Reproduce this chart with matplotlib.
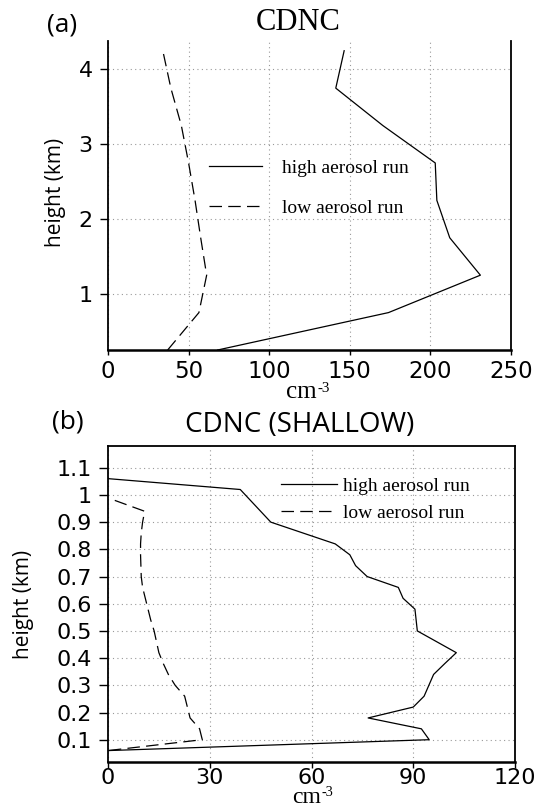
import matplotlib
matplotlib.use("Agg")
import matplotlib.pyplot as plt

W, H = 538, 808

# (a) CDNC profiles, levels every 0.5 km
heights_a = [0.25, 0.75, 1.25, 1.75, 2.25, 2.75, 3.25, 3.75, 4.25]
high_a = [68, 174, 231, 212, 204, 203, 170.5, 141.3, 146.5]
low_a = [37, 56.4, 61.2, 57.5, 54, 50, 45.5, 39, 34]

# (b) shallow cloud CDNC profiles
heights_b_high = [1.06, 1.02, 0.90, 0.82, 0.78, 0.74, 0.70, 0.66, 0.62, 0.58, 0.50,
                  0.42, 0.38, 0.34, 0.30, 0.26, 0.22, 0.18, 0.14, 0.10, 0.06]
high_b = [0, 39, 48, 67, 71.3, 73, 76.4, 85.6, 87, 90.5, 91.2,
          102.7, 99.3, 96, 94.6, 93.2, 90, 76.7, 92.4, 94.7, 0]
heights_b_low = [0.98, 0.94, 0.90, 0.86, 0.82, 0.78, 0.74, 0.70, 0.66, 0.62, 0.58, 0.54,
                 0.50, 0.46, 0.42, 0.38, 0.34, 0.30, 0.26, 0.22, 0.18, 0.14, 0.10, 0.06]
low_b = [2, 10.8, 10.2, 9.8, 9.6, 9.6, 9.7, 9.8, 10.2, 11, 11.8, 12.6,
         13.6, 14.3, 15, 16.3, 17.8, 19.8, 22.6, 23.4, 24.2, 27, 27.8, 0]

xticks_a = [0, 50, 100, 150, 200, 250]
yticks_a = [1, 2, 3, 4]
xticks_b = [0, 30, 60, 90, 120]
yticks_b = [0.1, 0.2, 0.3, 0.4, 0.5, 0.6, 0.7, 0.8, 0.9, 1.0, 1.1]
ylabels_b = ["0.1", "0.2", "0.3", "0.4", "0.5", "0.6", "0.7", "0.8", "0.9", "1", "1.1"]

labels = ["high aerosol run", "low aerosol run"]

SERIF = "Liberation Serif"
SANS = "Open Sans"
TICKF = "DejaVu Sans"


def px(x, y):
    return x / W, 1 - y / H


def box(l, t, r, b):
    return [l / W, 1 - b / H, (r - l) / W, (b - t) / H]


fig = plt.figure(figsize=(W / 100, H / 100), dpi=100)


def style(ax, xt, yt, ytl, ylen, xlen, xpad, xsize):
    ax.set_xticks(xt)
    ax.set_yticks(yt)
    if ytl is not None:
        ax.set_yticklabels(ytl)
    ax.tick_params(axis="y", direction="out", length=ylen, width=1, pad=5,
                   labelsize=16, right=False)
    ax.tick_params(axis="x", direction="out", length=xlen, width=1, pad=xpad,
                   labelsize=xsize, top=False)
    for lab in ax.get_xticklabels() + ax.get_yticklabels():
        lab.set_family(TICKF)
    ax.grid(True, linestyle=(0, (1, 3)), color="#999999", lw=0.8)
    for s in ax.spines.values():
        s.set_linewidth(1.3)
    ax.spines["bottom"].set_linewidth(1.8)


def draw(ax, h_hi, v_hi, h_lo, v_lo):
    ax.plot(v_hi, h_hi, color="black", lw=0.9, label=labels[0])
    ax.plot(v_lo, h_lo, color="black", lw=0.9, dashes=(10, 5), label=labels[1])


def units(x, base, size, rise):
    # "cm" with a small raised "-3" to its right
    fig.text(*px(x, base), "cm", family=SERIF, fontsize=size, ha="right", va="baseline")
    fig.text(*px(x + 0.5, base - rise), "-3", family=SERIF, fontsize=size * 0.6,
             ha="left", va="baseline")


# ---- panel (a)
ax1 = fig.add_axes(box(108, 41, 511, 350))
draw(ax1, heights_a, high_a, heights_a, low_a)
ax1.set_xlim(0, 250)
ax1.set_ylim(0.25, 4.38)
style(ax1, xticks_a, yticks_a, None, 6, 3.5, 4, 16.5)
ax1.spines["top"].set_visible(False)
ax1.legend(loc="upper left", bbox_to_anchor=px(209, 159), bbox_transform=fig.transFigure,
           frameon=False, borderpad=0, borderaxespad=0, handlelength=2.75,
           handletextpad=1.0, labelspacing=1.15, prop={"family": SERIF, "size": 14})

fig.text(*px(298, 23), "CDNC", family=SERIF, fontsize=22, ha="center", va="center")
fig.text(*px(62, 25), "(a)", family=SANS, fontsize=19, ha="center", va="center")
fig.text(*px(56, 192), "height (km)", family=SANS, fontsize=15, rotation=90,
         ha="center", va="center")
units(317, 398, 18, 6)

# ---- panel (b)
ax2 = fig.add_axes(box(108, 446, 515, 762))
draw(ax2, heights_b_high, high_b, heights_b_low, low_b)
ax2.set_xlim(0, 120)
ax2.set_ylim(0.018, 1.18)
style(ax2, xticks_b, yticks_b, ylabels_b, 6.5, 4, 0.5, 16)
ax2.legend(loc="upper left", bbox_to_anchor=px(281, 477), bbox_transform=fig.transFigure,
           frameon=False, borderpad=0, borderaxespad=0, handlelength=2.9,
           handletextpad=0.3, labelspacing=0.5, prop={"family": SERIF, "size": 14})

fig.text(*px(300, 425), "CDNC (SHALLOW)", family=SANS, fontsize=20, ha="center", va="center")
fig.text(*px(68, 422), "(b)", family=SANS, fontsize=19, ha="center", va="center")
fig.text(*px(24, 604), "height (km)", family=SANS, fontsize=15, rotation=90,
         ha="center", va="center")
units(321, 803, 17, 7)

fig.savefig("out.png", dpi=100)
